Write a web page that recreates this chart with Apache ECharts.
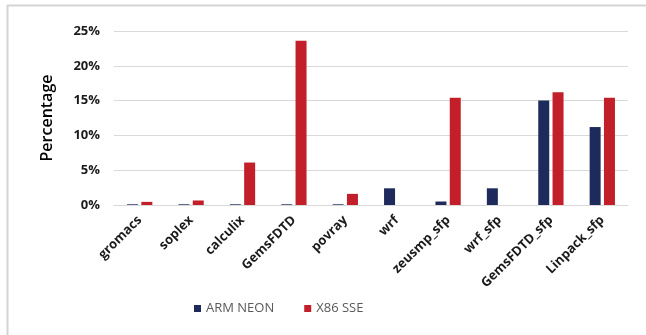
<!DOCTYPE html>
<html><head><meta charset="utf-8">
<script src="https://cdn.jsdelivr.net/npm/echarts@6/dist/echarts.min.js"></script>
<style>html,body{margin:0;padding:0;background:#fff}#c{width:646px;height:335px}</style>
</head><body><div id="c"></div>
<script>
const categories = ['gromacs','soplex','calculix','GemsFDTD','povray','wrf','zeusmp_sfp','wrf_sfp','GemsFDTD_sfp','Linpack_sfp'];
const armNeon = [0.1, 0.1, 0.1, 0.1, 0.1, 2.4, 0.5, 2.4, 15.0, 11.2];
const x86Sse  = [0.45, 0.65, 6.1, 23.6, 1.6, 0, 15.4, 0, 16.2, 15.4];
const seriesNames = ['ARM NEON', 'X86 SSE'];
const yTicks = [0, 5, 10, 15, 20, 25];

const chart = echarts.init(document.getElementById('c'), null, {renderer: 'canvas'});
const FONT = 'Open Sans';
chart.setOption({
  animation: false,
  backgroundColor: '#fff',
  graphic: [
    {type: 'line', shape: {x1: 7, y1: 5.5, x2: 646, y2: 5.5}, style: {stroke: '#d4d4d4', lineWidth: 2}},
    {type: 'line', shape: {x1: 7.5, y1: 5, x2: 7.5, y2: 335}, style: {stroke: '#d4d4d4', lineWidth: 2}}
  ],
  grid: {left: 114, right: 18, top: 31, bottom: 130, containLabel: false},
  legend: {
    data: seriesNames,
    bottom: 15, left: 189,
    itemWidth: 7, itemHeight: 7, itemGap: 30,
    icon: 'rect',
    textStyle: {color: '#595959', fontSize: 13, fontFamily: FONT}
  },
  xAxis: {
    type: 'category',
    data: categories,
    axisLine: {lineStyle: {color: '#d9d9d9', width: 1}},
    axisTick: {show: false},
    axisLabel: {rotate: 45, interval: 0, fontSize: 13, fontWeight: 'bold', color: '#1a1a1a', fontFamily: FONT, margin: 13}
  },
  yAxis: {
    type: 'value',
    min: 0, max: 25, interval: 5,
    name: 'Percentage',
    nameLocation: 'middle',
    nameGap: 59,
    nameRotate: 90,
    nameTextStyle: {fontSize: 16, fontWeight: 600, color: '#000', fontFamily: FONT},
    axisLine: {show: false},
    axisTick: {show: false},
    splitLine: {lineStyle: {color: '#d9d9d9', width: 1}},
    axisLabel: {
      formatter: v => yTicks.includes(v) ? v + '%' : '',
      fontSize: 13, fontWeight: 'bold', color: '#1a1a1a', fontFamily: FONT, margin: 14
    }
  },
  series: [
    {name: seriesNames[0], type: 'bar', data: armNeon, barWidth: 11, barGap: '30%',
     itemStyle: {color: '#1f2a5c'}},
    {name: seriesNames[1], type: 'bar', data: x86Sse, barWidth: 11,
     itemStyle: {color: '#c21f2a'}}
  ]
});
</script></body></html>
